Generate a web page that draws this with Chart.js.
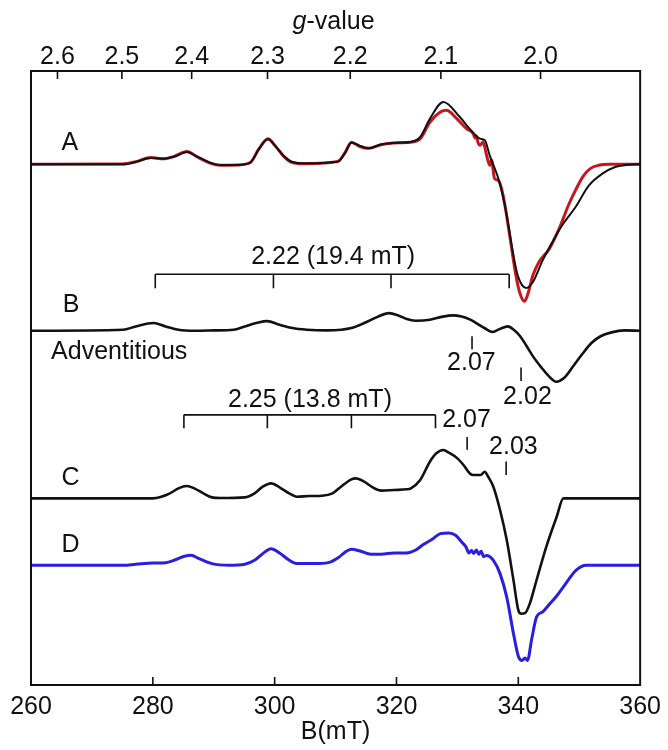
<!DOCTYPE html>
<html>
<head>
<meta charset="utf-8">
<script src="https://cdn.jsdelivr.net/npm/chart.js@4.4.1/dist/chart.umd.min.js"></script>
<style>
  html, body { margin: 0; padding: 0; background: #fff; }
  #wrap { width: 668px; height: 750px; position: relative; }
</style>
</head>
<body>
<div id="wrap"><canvas id="epr"></canvas></div>
<script>
/* global Chart */

// ---- data (field in mT, signal in arbitrary units) -------------------------
const gTicks = [2.6, 2.5, 2.4, 2.3, 2.2, 2.1, 2.0];
const gFactor = 687.3; // g * B(mT) at the spectrometer frequency

const traceA = [
  [260, 0], [275, 0], [275.5, 0], [277.2, 0.38], [279.7, 1.03], [281.7, 0.92], [283.5, 1.25],
  [285.6, 2.0], [287.3, 1.25], [289.4, 0.27], [291.1, -0.11], [293.9, -0.11], [296.0, 0.27],
  [297.4, 2.44], [298.9, 4.07], [300.1, 3.0], [301.5, 1.36], [302.9, 0.38], [305.0, 0.16],
  [308.0, 0.22], [309.9, 0.38], [310.6, 0.54], [311.6, 1.9], [312.6, 3.53], [314.0, 3.0],
  [315.4, 2.6], [317.5, 3.26], [320.3, 3.53], [322.3, 3.64], [323.9, 4.45], [325.5, 7.44],
  [327.7, 10.15], [330.4, 7.71], [332.0, 5.81], [333.7, 4.18], [334.5, 3.91], [335.3, 1.47],
  [336.9, -2.88], [338.0, -7.76], [339.1, -14.28], [339.9, -18.08], [341.3, -20.14],
  [342.4, -19.16], [344.0, -15.64], [345.6, -12.65], [347.2, -9.93], [349.4, -6.95],
  [351.6, -3.42], [353.8, -1.52], [355.9, -0.43], [358.1, -0.05], [360, 0],
];

const traceARed = [
  [260, 0], [275, 0.05], [277.2, 0.43], [279.7, 1.1], [281.7, 0.9], [283.5, 1.3], [285.6, 2.1],
  [287.3, 1.2], [289.4, 0.2], [291.1, -0.15], [293.9, -0.1], [296.0, 0.3], [297.4, 2.5],
  [298.9, 4.15], [300.1, 3.0], [301.5, 1.3], [302.9, 0.3], [305.0, 0.1], [308.0, 0.2],
  [309.9, 0.4], [310.6, 0.6], [311.6, 2.0], [312.6, 3.6], [314.0, 2.9], [315.4, 2.6],
  [317.5, 3.2], [320.3, 3.5], [322.3, 3.6], [323.9, 4.18], [325.5, 6.89], [327.2, 8.52],
  [328.2, 8.79], [329.9, 7.44], [331.5, 5.81], [332.6, 4.99], [332.9, 4.3], [333.1, 4.6],
  [333.4, 3.5], [333.7, 3.09], [334.2, 3.64], [334.8, 1.47], [335.3, -0.16], [335.6, 0.65],
  [336.1, -2.33], [336.7, -2.61], [337.5, -5.05], [338.5, -11.02], [339.6, -18.08],
  [340.2, -20.79], [341.0, -22.31], [341.5, -21.34], [342.4, -18.08], [343.4, -15.91],
  [345.1, -13.74], [346.7, -10.48], [348.3, -6.5], [349.5, -4.0], [350.6, -2.0],
  [351.8, -0.7], [353.2, -0.15], [355.0, 0], [360, 0],
];

const traceB = [
  [260, 0], [275.1, 0.16], [277.2, 0.7], [280.1, 1.25], [282.1, 0.7], [284.2, 0.16], [286.9, 0],
  [290.1, 0.05], [293.2, 0.16], [295.1, 0.7], [297.0, 1.25], [298.75, 1.57], [300.8, 0.98],
  [302.9, 0.43], [305.3, 0.16], [308.5, 0.05], [310.9, 0.16], [312.6, 0.43], [314.7, 1.25],
  [316.8, 2.22], [318.75, 2.87], [320.3, 2.49], [321.7, 1.9], [323.1, 1.63], [325.5, 1.79],
  [327.6, 2.3], [329.3, 2.5], [330.7, 2.3], [332.1, 1.8], [333.1, 1.25], [334.5, 0.4],
  [335.8, -0.2], [337.0, 0.3], [338.3, 0.7], [339.3, 0.1], [340.3, -0.9], [341.3, -2.4],
  [342.5, -4.3], [343.8, -6.0], [345.0, -7.4], [346.2, -8.3], [347.5, -7.7], [349.0, -5.8],
  [350.5, -3.8], [352.0, -2.0], [353.5, -0.9], [355.3, -0.27], [357.4, 0.05], [360, 0],
];

const traceC = [
  [260, 0], [280, 0], [281.4, 0.27], [282.8, 0.81], [284.2, 1.63], [285.6, 2.01], [286.8, 1.63],
  [288.3, 0.81], [289.7, 0.16], [291.1, 0.05], [295.1, 0.16], [296.7, 0.81], [298.05, 1.9],
  [299.4, 2.44], [300.8, 1.79], [302.4, 0.81], [303.6, 0.27], [305.7, 0.38], [307.8, 0.43],
  [309.5, 0.81], [310.9, 1.9], [312.6, 3.09], [313.3, 3.26], [314.7, 2.71], [316.1, 1.79],
  [317.5, 1.25], [319.6, 1.36], [321.7, 1.47], [322.3, 1.6], [323.9, 3.0], [325.5, 6.0],
  [326.5, 7.3], [327.7, 7.87], [328.6, 7.44], [330.0, 6.51], [331.0, 5.43], [332.1, 4.0],
  [332.6, 3.8], [333.8, 3.8], [334.5, 4.34], [335.0, 3.6], [335.9, 1.9], [337.0, -1.9],
  [338.1, -6.8], [339.2, -13.3], [340.0, -18.2], [340.5, -18.8], [341.1, -18.7],
  [341.9, -17.1], [343.0, -13.3], [344.6, -7.87], [346.3, -3.0], [347.4, 0], [360, 0],
];

const traceD = [
  [260, 0], [275.1, 0], [277.2, 0.16], [280, 0.38], [282.1, 0.43], [283.5, 0.81], [285.2, 1.47],
  [286.25, 1.63], [287.6, 1.09], [289.7, 0.27], [292.5, 0], [295.1, 0.16], [296.7, 0.81],
  [298.05, 1.9], [299.4, 2.71], [300.8, 2.01], [302.4, 0.81], [303.6, 0.27], [306.5, 0.27],
  [308.8, 0.43], [310.6, 1.36], [311.6, 2.17], [312.6, 2.61], [314.0, 2.33], [315.8, 1.79],
  [317.5, 1.79], [319.6, 2.01], [321.7, 2.01], [323.1, 2.44], [324.4, 3.37], [325.8, 4.18],
  [327.2, 5.16], [328.6, 5.27], [329.7, 4.89], [330.7, 3.8], [331.4, 3.0], [331.9, 2.0],
  [332.3, 2.4], [332.7, 1.9], [333.1, 2.5], [333.5, 1.8], [333.9, 2.3], [334.3, 1.4],
  [334.8, 1.6], [335.9, 0.8], [337.0, -1.36], [338.1, -5.2], [339.2, -11.1], [340.0, -14.8],
  [340.6, -15.5], [341.1, -15.1], [341.5, -15.5], [342.2, -12.0], [343.0, -8.4],
  [344.0, -7.6], [345.2, -6.24], [346.3, -5.0], [347.4, -3.53], [349.5, -0.8], [351.2, 0],
  [360, 0],
];

// vertical offsets of the stacked spectra
const baseA = 84.8;
const baseB = 57.7;
const baseC = 30.4;
const baseD = 19.5;

// hyperfine brackets and g markers
const bracket222 = [280.4, 299.8, 319.1, 338.5];
const bracket225 = [285.1, 298.8, 312.6, 326.4];

// ---- annotation layout (field, signal units) --------------------------------
const brackets = [
  { fields: bracket222, line: 66.9, end: 64.6, text: '2.22 (19.4 mT)', tx: 309.6, ty: 69.75 },
  { fields: bracket225, line: 44.0, end: 41.8, text: '2.25 (13.8 mT)', tx: 305.8, ty: 46.4 },
];
const marks = [
  { text: '2.07', field: 332.4, y1: 56.8, y2: 54.7, tx: 332.3, ty: 52.5 },
  { text: '2.02', field: 340.45, y1: 51.7, y2: 49.5, tx: 341.5, ty: 46.9 },
  { text: '2.07', field: 331.6, y1: 40.4, y2: 38.3, tx: 331.5, ty: 43.2 },
  { text: '2.03', field: 338.0, y1: 36.4, y2: 34.2, tx: 339.2, ty: 38.8 },
];
const traceLabels = [
  { text: 'A', field: 265.0, y: 88.3 },
  { text: 'B', field: 265.2, y: 61.9 },
  { text: 'Adventitious', field: 263.3, y: 54.15 },
  { text: 'C', field: 265.0, y: 33.7 },
  { text: 'D', field: 265.0, y: 22.8 },
];

const FONT = '"Liberation Sans", Arial, Helvetica, sans-serif';
const INK = '#111';

function shift(trace, base) {
  return trace.map(([b, v]) => ({ x: b, y: v + base }));
}

function line(data, color, width) {
  return {
    data,
    borderColor: color,
    borderWidth: width,
    pointRadius: 0,
    fill: false,
    cubicInterpolationMode: 'monotone',
  };
}

// ---- frame, inward ticks, annotations -----------------------------------------
const overlay = {
  id: 'overlay',
  afterDraw(chart) {
    const { ctx, chartArea: a, scales } = chart;
    const sx = scales.x;
    const sy = scales.y;
    const top = scales.x2;
    const px = (b) => sx.getPixelForValue(b);
    const py = (v) => sy.getPixelForValue(v);

    ctx.save();
    ctx.strokeStyle = INK;
    ctx.fillStyle = INK;
    ctx.lineWidth = 2;
    ctx.strokeRect(a.left, a.top, a.right - a.left, a.bottom - a.top);

    ctx.lineWidth = 1.6;
    ctx.beginPath();
    sx.ticks.forEach((t) => {
      if (t.value <= sx.min || t.value >= sx.max) return;
      ctx.moveTo(px(t.value), a.bottom);
      ctx.lineTo(px(t.value), a.bottom - 8);
    });
    top.ticks.forEach((t) => {
      const x = top.getPixelForValue(t.value);
      ctx.moveTo(x, a.top);
      ctx.lineTo(x, a.top + 8);
    });
    ctx.stroke();

    // g-value title with italic g
    ctx.textBaseline = 'alphabetic';
    ctx.textAlign = 'left';
    ctx.font = `italic 25px ${FONT}`;
    const wg = ctx.measureText('g').width;
    ctx.font = `25px ${FONT}`;
    const wv = ctx.measureText('-value').width;
    const x0 = (a.left + a.right) / 2 - 2 - (wg + wv) / 2;
    ctx.font = `italic 25px ${FONT}`;
    ctx.fillText('g', x0, 29);
    ctx.font = `25px ${FONT}`;
    ctx.fillText('-value', x0 + wg, 29);

    // brackets
    ctx.textBaseline = 'middle';
    ctx.lineWidth = 1.6;
    brackets.forEach((br) => {
      const f = br.fields;
      ctx.beginPath();
      ctx.moveTo(px(f[0]), py(br.line));
      ctx.lineTo(px(f[f.length - 1]), py(br.line));
      f.forEach((b) => {
        ctx.moveTo(px(b), py(br.line));
        ctx.lineTo(px(b), py(br.end));
      });
      ctx.stroke();
      ctx.textAlign = 'center';
      ctx.fillText(br.text, px(br.tx), py(br.ty));
    });

    // g markers
    marks.forEach((m) => {
      ctx.beginPath();
      ctx.moveTo(px(m.field), py(m.y1));
      ctx.lineTo(px(m.field), py(m.y2));
      ctx.stroke();
      ctx.textAlign = 'center';
      ctx.fillText(m.text, px(m.tx), py(m.ty));
    });

    // trace labels
    ctx.textAlign = 'left';
    traceLabels.forEach((l) => ctx.fillText(l.text, px(l.field), py(l.y)));

    ctx.restore();
  },
};

// ---- chart ---------------------------------------------------------------------
Chart.defaults.font.family = FONT;
Chart.defaults.color = INK;

new Chart(document.getElementById('epr'), {
  type: 'line',
  data: {
    datasets: [
      line(shift(traceA, baseA), '#111111', 2),
      line(shift(traceARed, baseA), '#c8161d', 3),
      line(shift(traceB, baseB), '#111111', 2.6),
      line(shift(traceC, baseC), '#111111', 2.6),
      line(shift(traceD, baseD), '#2a1ee0', 3),
    ],
  },
  options: {
    responsive: true,
    maintainAspectRatio: false,
    animation: false,
    layout: { padding: { left: 31, right: 23, top: 0, bottom: 0 } },
    plugins: { legend: { display: false }, tooltip: { enabled: false } },
    scales: {
      x: {
        type: 'linear',
        position: 'bottom',
        min: 260,
        max: 360,
        grid: { display: false, drawTicks: false },
        border: { display: false },
        ticks: { stepSize: 20, padding: 7, autoSkip: false, maxRotation: 0, font: { size: 25 } },
        title: { display: true, text: 'B(mT)', font: { size: 25 }, padding: { top: 0, bottom: 3 } },
        afterFit: (s) => { s.height = 65; },
      },
      x2: {
        type: 'linear',
        position: 'top',
        min: 260,
        max: 360,
        grid: { display: false, drawTicks: false },
        border: { display: false },
        afterBuildTicks: (s) => { s.ticks = gTicks.map((g) => ({ value: gFactor / g })); },
        ticks: {
          padding: -1,
          autoSkip: false,
          maxRotation: 0,
          font: { size: 25 },
          callback: (v) => (gFactor / v).toFixed(1),
        },
        afterFit: (s) => { s.height = 71; },
      },
      y: { display: false, min: 0, max: 100 },
    },
  },
  plugins: [overlay],
});
</script>
</body>
</html>
